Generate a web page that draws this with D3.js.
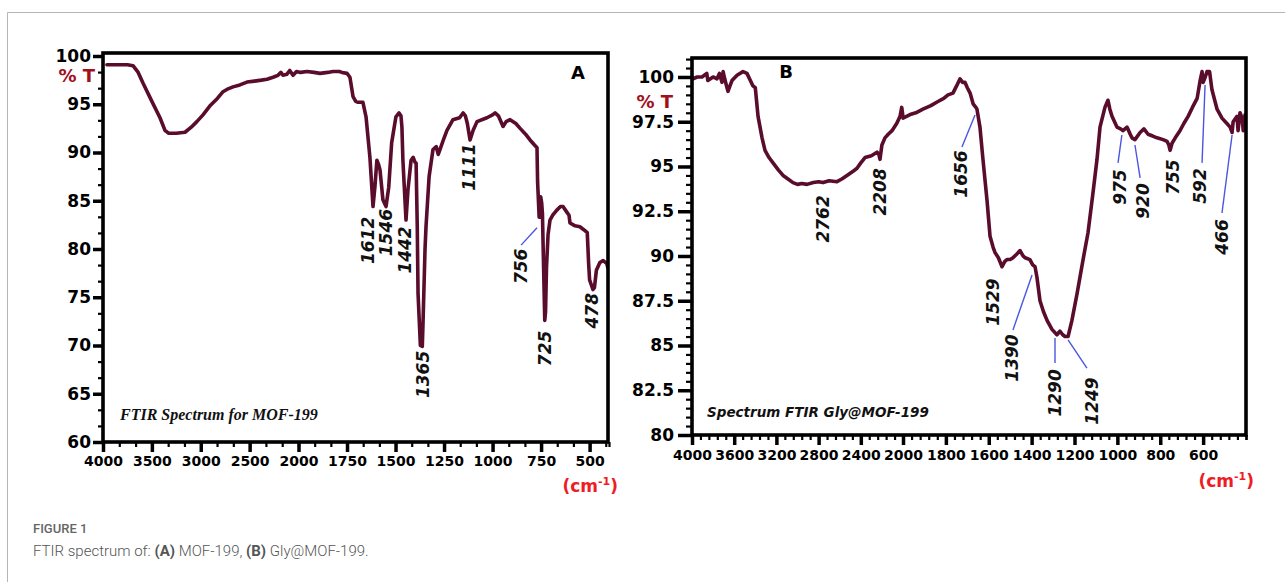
<!DOCTYPE html>
<html>
<head>
<meta charset="utf-8">
<script src="https://cdn.jsdelivr.net/npm/d3@7"></script>
<style>
  html, body { margin: 0; padding: 0; background: #fff; }
  svg { display: block; }
</style>
</head>
<body>
<svg id="chart" width="1285" height="582"></svg>
<script>
// ---------- DATA ----------
// Panel A: FTIR spectrum of MOF-199 (wavenumber cm-1, %T)
const waveA = [3960,3850,3750,3693,3640,3591,3500,3417,3366,3330,3250,3161,3100,3040,2977,2900,2830,2772,2720,2670,2600,2527,2450,2380,2322,2260,2210,2180,2159,2120,2090,2056,2020,1990,1956,1920,1889,1850,1822,1790,1776,1750,1735,1719,1705,1693,1668,1652,1632,1616,1606,1596,1588,1580,1565,1549,1535,1520,1498,1482,1472,1467,1462,1446,1436,1420,1409,1400,1394,1388,1384,1372,1362,1359,1348,1343,1327,1307,1290,1280,1271,1250,1235,1204,1170,1152,1140,1130,1116,1100,1080,1029,1000,987,970,946,930,910,880,858,830,807,785,771,768,766,760,756,752,747,743,737,731,727,722,714,704,690,670,650,637,620,606,601,575,550,530,512,505,500,483,475,465,447,430,412,405];
const transA = [99.1,99.1,99.1,99.0,98.3,97.2,95.3,93.6,92.3,92.0,92.0,92.1,92.6,93.2,93.9,94.9,95.6,96.3,96.6,96.8,97.0,97.3,97.4,97.5,97.6,97.8,98.0,98.3,98.0,98.1,98.5,98.0,98.4,98.3,98.4,98.3,98.2,98.3,98.4,98.4,98.3,98.2,97.8,95.8,95.3,95.2,95.2,93.7,89.5,84.4,86.5,89.2,88.8,88.2,85.1,84.4,86.4,91.0,93.7,94.1,93.8,92.6,89.2,83.0,86.1,89.2,89.5,89.0,88.9,82.3,75.4,70.0,69.9,71.9,80.0,82.3,87.5,90.3,90.6,89.8,90.3,91.5,92.3,93.4,93.6,94.1,93.8,93.0,91.3,92.3,93.2,93.6,93.9,94.1,93.8,92.7,93.2,93.4,93.0,92.5,91.9,91.3,90.8,90.5,87.0,86.1,83.3,83.3,85.4,84.8,83.7,78.0,72.6,73.5,78.1,81.5,83.0,83.5,84.0,84.4,84.4,83.9,83.5,82.7,82.4,82.3,82.0,81.7,78.5,76.8,75.8,76.0,77.8,78.6,78.8,78.5,78.0];

// Panel B: FTIR spectrum of Gly@MOF-199
const waveB = [4000,3991,3950,3905,3860,3850,3800,3763,3740,3716,3705,3690,3668,3659,3640,3621,3573,3517,3479,3422,3400,3374,3336,3308,3270,3232,3180,3137,3090,3043,3000,2960,2910,2850,2800,2758,2700,2626,2580,2531,2480,2436,2400,2360,2300,2246,2230,2218,2200,2171,2140,2104,2060,2028,2012,2005,2000,1967,1940,1907,1870,1841,1810,1790,1767,1750,1734,1722,1711,1700,1687,1673,1660,1655,1641,1627,1608,1594,1580,1571,1555,1538,1525,1515,1500,1487,1470,1454,1440,1430,1408,1395,1384,1375,1361,1345,1328,1305,1282,1268,1255,1244,1230,1212,1188,1160,1137,1114,1095,1081,1058,1044,1035,1025,1002,985,974,955,940,932,918,894,876,857,835,815,787,768,760,754,745,730,708,690,670,650,628,614,605,600,590,582,570,559,535,512,489,474,465,460,442,437,428,418,413,404];
const transB = [100.0,99.9,100.0,100.0,100.2,99.8,100.0,99.9,100.2,99.7,100.3,99.9,99.4,99.2,99.5,99.8,100.1,100.3,100.2,99.5,99.4,97.8,96.6,95.9,95.5,95.2,94.8,94.5,94.3,94.1,94.0,94.05,94.0,94.1,94.15,94.1,94.2,94.15,94.3,94.5,94.7,94.9,95.2,95.5,95.6,95.8,95.7,95.4,96.2,96.6,96.8,97.0,97.4,97.8,98.3,98.0,97.7,97.9,98.0,98.2,98.4,98.6,98.8,99.0,99.1,99.5,99.9,99.7,99.7,99.4,99.1,98.5,98.3,98.2,97.2,95.4,93.1,91.1,90.5,90.2,89.9,89.4,89.7,89.8,89.8,89.9,90.1,90.3,90.0,89.9,89.8,89.5,89.4,88.8,87.5,86.9,86.4,85.9,85.6,85.8,85.6,85.5,85.5,86.4,87.9,89.8,91.3,93.5,95.4,97.2,98.3,98.7,98.2,97.8,97.2,97.1,97.0,97.2,96.8,96.6,96.5,96.9,97.1,96.8,96.7,96.6,96.5,96.4,96.2,95.9,96.3,96.6,97.0,97.4,97.8,98.3,98.8,99.8,100.3,99.7,100.0,100.3,100.3,99.3,98.2,97.7,97.4,97.2,96.9,97.5,97.8,97.0,98.0,97.7,97.0,97.9];

// Tick labels
const xTicksA = [4000,3500,3000,2500,2000,1750,1500,1250,1000,750,500];
const yTicksA = [60,65,70,75,80,85,90,95,100];
const xTicksB = [4000,3600,3200,2800,2400,2000,1800,1600,1400,1200,1000,800,600];
const yTicksB = [80,82.5,85,87.5,90,92.5,95,97.5,100];

// Peak annotations: label, text centre (wavenumber, %T)
const peakLabelsA = ["1612","1546","1442","1365","1111","756","725","478"];
const peakWaveA   = [1642,1549,1451,1358,1121,853,730,488];
const peakTransA  = [80.9,81.7,79.9,67.0,88.5,78.2,69.7,73.6];
// leader lines A: [wn1,%1,wn2,%2]
const leadersA = [[853,80.4,771,82.2]];

const peakLabelsB = ["2762","2208","1656","1529","1390","1290","1249","975","920","755","592","466"];
const peakWaveB   = [2758,2218,1729,1580,1492,1291,1118,988,880,740,614,512];
const peakTransB  = [92.07,93.58,94.58,87.43,84.30,82.35,81.90,93.85,93.07,94.41,93.91,91.06];
const leadersB = [
  [1725,96.09,1664,97.88],
  [1487,85.87,1398,88.94],
  [1291,84.02,1291,85.42],
  [1142,83.74,1230,85.31],
  [997,95.20,979,96.76],
  [894,94.36,918,96.20],
  [605,95.20,591,99.55],
  [512,92.40,465,96.76]
];

// ---------- DRAW ----------
const svg = d3.select("#chart");
const curveColor = "#5a0c2c";
const tickFont = "'DejaVu Sans', Verdana, sans-serif";

// outer figure frame (light grey)
svg.append("path")
  .attr("d", "M7.5,582 L7.5,12.5 L1285,12.5")
  .attr("fill", "none").attr("stroke", "#b5b5b5").attr("stroke-width", 1);

function panel(cfg) {
  const g = svg.append("g");
  const x = d3.scaleLinear().domain([4000, 2000, 400]).range(cfg.xRange);
  const y = d3.scaleLinear().domain(cfg.yDomain).range(cfg.yRange);
  const [fx0, fx1] = [cfg.frame[0], cfg.frame[1]];
  const [fy0, fy1] = [cfg.frame[2], cfg.frame[3]];

  // clip
  const clipId = "clip" + cfg.id;
  svg.append("clipPath").attr("id", clipId)
    .append("rect").attr("x", fx0).attr("y", fy0).attr("width", fx1 - fx0).attr("height", fy1 - fy0);

  // minor y ticks
  const yMinor = d3.axisLeft(y).tickValues(cfg.yMinor).tickSize(cfg.yMinorLen).tickFormat("");
  g.append("g").attr("transform", `translate(${fx0},0)`).call(yMinor)
    .call(s => s.select(".domain").remove())
    .selectAll("line").attr("stroke", "#000").attr("stroke-width", 2.2);
  // major y ticks
  const yMajor = d3.axisLeft(y).tickValues(cfg.yTicks).tickSize(cfg.yMajorLen).tickPadding(cfg.yPad)
    .tickFormat(d => String(d));
  const ya = g.append("g").attr("transform", `translate(${fx0},0)`).call(yMajor);
  ya.select(".domain").remove();
  ya.selectAll("line").attr("stroke", "#000").attr("stroke-width", 3.5);
  ya.selectAll("text").attr("font-family", tickFont).attr("font-weight", "bold")
    .attr("font-size", 17).attr("fill", "#000");

  // minor x ticks
  const xMinor = d3.axisBottom(x).tickValues(cfg.xMinor).tickSize(5).tickFormat("");
  g.append("g").attr("transform", `translate(0,${fy1})`).call(xMinor)
    .call(s => s.select(".domain").remove())
    .selectAll("line").attr("stroke", "#000").attr("stroke-width", 2.2);
  const xMajor = d3.axisBottom(x).tickValues(cfg.xTicks).tickSize(10).tickPadding(cfg.xPad)
    .tickFormat(d => String(d));
  const xa = g.append("g").attr("transform", `translate(0,${fy1})`).call(xMajor);
  xa.select(".domain").remove();
  xa.selectAll("line").attr("stroke", "#000").attr("stroke-width", 3.5);
  xa.selectAll("text").attr("font-family", tickFont).attr("font-weight", "bold")
    .attr("font-size", 14).attr("fill", "#000");

  // curve
  const pts = cfg.wave.map((w, i) => [w, cfg.trans[i]]);
  g.append("path")
    .datum(pts)
    .attr("clip-path", `url(#${clipId})`)
    .attr("fill", "none")
    .attr("stroke", curveColor)
    .attr("stroke-width", 3.6)
    .attr("stroke-linejoin", "round")
    .attr("stroke-linecap", "round")
    .attr("d", d3.line().x(d => x(d[0])).y(d => y(d[1])));

  // frame
  g.append("rect").attr("x", fx0).attr("y", fy0).attr("width", fx1 - fx0).attr("height", fy1 - fy0)
    .attr("fill", "none").attr("stroke", "#000").attr("stroke-width", 3.6);

  // leaders
  g.selectAll("line.leader").data(cfg.leaders).enter().append("line")
    .attr("class", "leader")
    .attr("x1", d => x(d[0])).attr("y1", d => y(d[1]))
    .attr("x2", d => x(d[2])).attr("y2", d => y(d[3]))
    .attr("stroke", "#4a55e0").attr("stroke-width", 1.4);

  // peak labels
  g.selectAll("text.peak").data(cfg.peakLabels).enter().append("text")
    .attr("class", "peak")
    .attr("transform", (d, i) => `translate(${x(cfg.peakWave[i])},${y(cfg.peakTrans[i])}) rotate(-90)`)
    .attr("text-anchor", "middle")
    .attr("dominant-baseline", "central")
    .attr("font-family", tickFont).attr("font-weight", "bold").attr("font-style", "italic")
    .attr("font-size", 17).attr("fill", "#111")
    .text(d => d);

  // %T label
  g.append("text").attr("x", cfg.pctPos[0]).attr("y", cfg.pctPos[1])
    .attr("text-anchor", "end")
    .attr("font-family", tickFont).attr("font-weight", "bold").attr("font-size", 18)
    .attr("fill", "#a0101e").text("% T");

  // unit label
  const u = g.append("text").attr("x", cfg.unitPos[0]).attr("y", cfg.unitPos[1])
    .attr("text-anchor", "end")
    .attr("font-family", tickFont).attr("font-weight", "bold").attr("font-size", 17)
    .attr("fill", "#ee1c24");
  u.append("tspan").text("(cm");
  u.append("tspan").attr("font-size", 11).attr("dy", -7).text("-1");
  u.append("tspan").attr("dy", 7).text(")");

  // panel letter
  g.append("text").attr("x", cfg.letterPos[0]).attr("y", cfg.letterPos[1])
    .attr("text-anchor", "middle")
    .attr("font-family", tickFont).attr("font-weight", "bold").attr("font-size", 18)
    .attr("fill", "#000").text(cfg.letter);

  // title inside plot
  g.append("text").attr("x", cfg.titlePos[0]).attr("y", cfg.titlePos[1])
    .attr("font-family", cfg.titleFont).attr("font-weight", "bold").attr("font-style", "italic")
    .attr("font-size", cfg.titleSize).attr("fill", "#111").text(cfg.title);
}

function minorTicks(step1, step2) {
  const a = d3.range(4000, 2000 - 1e-6, -step1);
  const b = d3.range(2000, 400 - 1e-6, -step2);
  return a.concat(b).concat([400]);
}

panel({
  id: "A",
  xRange: [103, 298.5, 609],
  yDomain: [60, 100], yRange: [442, 56],
  frame: [103, 608, 53, 442],
  xTicks: xTicksA, yTicks: yTicksA,
  xMinor: minorTicks(500 / 3, 250 / 3),
  yMinor: d3.range(60, 100.01, 5 / 3),
  yMajorLen: 10, yMinorLen: 5, yPad: 2, xPad: 4,
  wave: waveA, trans: transA,
  peakLabels: peakLabelsA, peakWave: peakWaveA, peakTrans: peakTransA,
  leaders: leadersA,
  pctPos: [95, 82], unitPos: [618, 492], letterPos: [578, 79],
  letter: "A",
  title: "FTIR Spectrum for MOF-199", titlePos: [120, 420],
  titleFont: "'Liberation Serif', 'Times New Roman', serif", titleSize: 16
});

panel({
  id: "B",
  xRange: [692, 903, 1246],
  yDomain: [80, 101.06], yRange: [435, 58],
  frame: [692, 1246, 58, 435],
  xTicks: xTicksB, yTicks: yTicksB,
  xMinor: minorTicks(80, 40),
  yMinor: d3.range(80, 101.01, 0.5),
  yMajorLen: 14, yMinorLen: 6, yPad: 4, xPad: 5,
  wave: waveB, trans: transB,
  peakLabels: peakLabelsB, peakWave: peakWaveB, peakTrans: peakTransB,
  leaders: leadersB,
  pctPos: [673, 108], unitPos: [1254, 487], letterPos: [786, 78],
  letter: "B",
  title: "Spectrum FTIR Gly@MOF-199", titlePos: [707, 417],
  titleFont: "'DejaVu Sans', Verdana, sans-serif", titleSize: 13.5
});

// caption
svg.append("text").attr("x", 33).attr("y", 533)
  .attr("font-family", "Roboto, 'Open Sans', sans-serif").attr("font-weight", 500)
  .attr("font-size", 13).attr("fill", "#666").text("FIGURE 1");
const cap = svg.append("text").attr("x", 33).attr("y", 556)
  .attr("font-family", "Roboto, 'Open Sans', sans-serif").attr("font-weight", 300)
  .attr("font-size", 15).attr("fill", "#555");
cap.append("tspan").text("FTIR spectrum of: ");
cap.append("tspan").attr("font-weight", "bold").text("(A)");
cap.append("tspan").text(" MOF-199, ");
cap.append("tspan").attr("font-weight", "bold").text("(B)");
cap.append("tspan").text(" Gly@MOF-199.");
</script>
</body>
</html>
